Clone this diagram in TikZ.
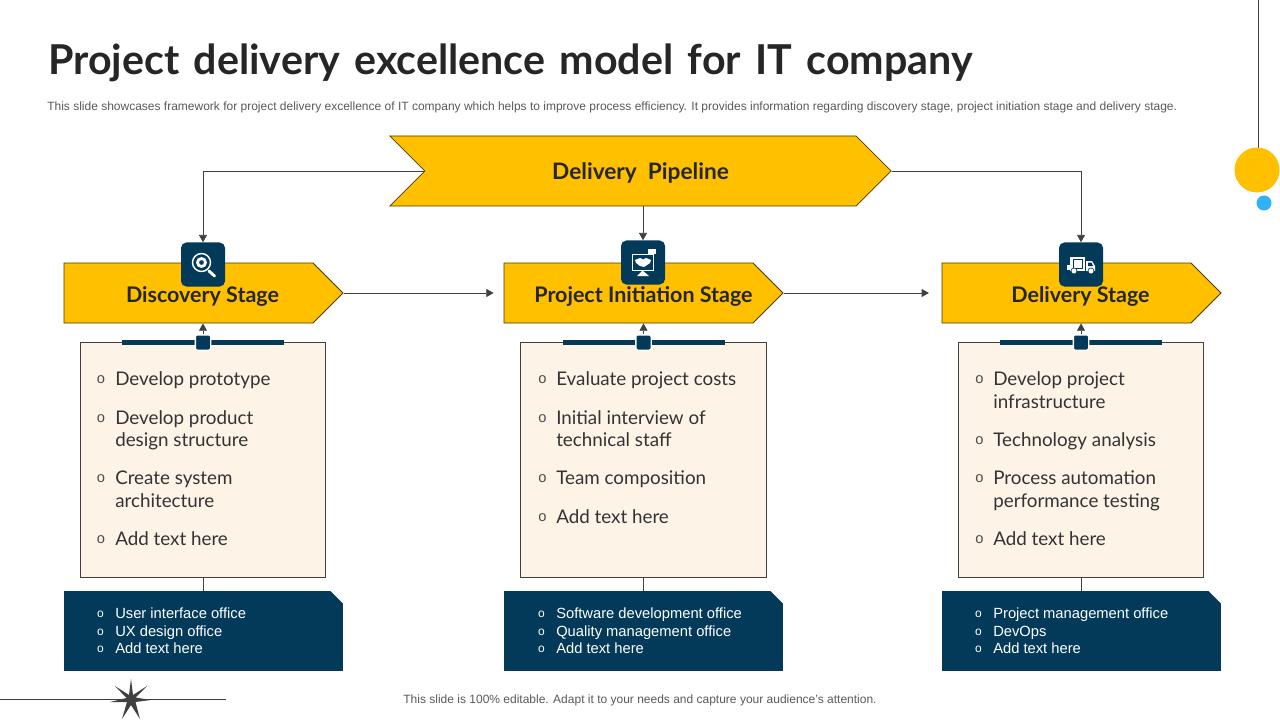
\documentclass[tikz,border=0pt]{standalone}
\usepackage{fontspec}
\setmainfont{Liberation Sans}
\newfontfamily\headfont{Lato}
\usepackage{xcolor}
\usetikzlibrary{shapes.symbols, arrows.meta, positioning}
\definecolor{goldfill}{HTML}{FFC000}
\definecolor{navyfill}{HTML}{033A59}
\definecolor{creamfill}{HTML}{FDF3E7}
\definecolor{skydot}{HTML}{2FB2FA}
\definecolor{linegray}{HTML}{404040}
\tikzset{
  stagebox/.style={signal, signal to=east, draw=black!70!goldfill, fill=goldfill, line width=0.6pt, minimum width=209.25pt, minimum height=45pt, inner sep=0pt},
  stagetxt/.style={anchor=base, inner sep=0pt, text=black!85, font=\headfont\bfseries\fontsize{16.1}{19}\selectfont},
  bodybox/.style={draw=linegray, fill=creamfill, line width=0.6pt, minimum width=184pt, minimum height=176pt, inner sep=0pt},
  officebox/.style={rectangle, fill=navyfill, minimum width=209.25pt, minimum height=59.5pt, inner sep=0pt},
  iconbox/.style={rectangle, rounded corners=4pt, fill=navyfill, minimum width=33pt, minimum height=33pt, inner sep=0pt},
  tabbox/.style={rectangle, rounded corners=1.5pt, fill=navyfill, draw=white, line width=1pt, minimum size=11.5pt, inner sep=0pt},
  conn/.style={draw=linegray, line width=0.6pt, -{Triangle[length=5.5pt,width=6pt]}},
  plainconn/.style={draw=linegray, line width=0.6pt},
  bodytxt/.style={anchor=base west, inner sep=0pt, text=black!80, font=\headfont\fontsize{14.1}{17}\selectfont},
  bullettxt/.style={anchor=center, inner sep=0pt, text=black!70, font=\fontsize{11}{13}\selectfont},
  officetxt/.style={anchor=base west, inner sep=0pt, text=white, font=\fontsize{11.05}{13}\selectfont},
  officedot/.style={anchor=center, inner sep=0pt, text=white, font=\fontsize{9}{11}\selectfont},
}
\begin{document}
\begin{tikzpicture}[x=0.75pt, y=-0.75pt]
\useasboundingbox (0,0) rectangle (1280,720);
% Heading
\node[anchor=base west, inner sep=0pt, text=black!85, font=\headfont\bfseries\fontsize{30.9}{36}\selectfont] (title) at (48,74.5) {\spaceskip=10.7pt\relax Project delivery excellence model for IT company};
\node[anchor=base west, inner sep=0pt, text=black!65, font=\fontsize{9}{11}\selectfont] (intro) at (47,110.5) {This slide showcases framework for project delivery excellence of IT company which helps to improve process efficiency. It provides information regarding discovery stage, project initiation stage and delivery stage.};
% Pipeline
\node[stagebox, signal from=west, minimum width=376pt, minimum height=52.5pt] (pipeline) at (640.5,171) {};
\node[stagetxt, font=\headfont\bfseries\fontsize{17}{20}\selectfont] (pipelinetxt) at (640.5,179.5) {Delivery\ \ Pipeline};
% Stages
\node[stagebox] (discovery) at (188.5,293) {};
\node[stagebox] (initiation) at (628.5,293) {};
\node[stagebox] (delivery) at (1066.5,293) {};
\node[stagetxt] (discoverytxt) at (202.5,302) {Discovery Stage};
\node[stagetxt] (initiationtxt) at (643.5,302) {Project Initiation Stage};
\node[stagetxt] (deliverytxt) at (1080.5,302) {Delivery Stage};
% Body boxes
\node[bodybox] (bodyA) at (203,460) {};
\node[bodybox] (bodyB) at (643.5,460) {};
\node[bodybox] (bodyC) at (1081,460) {};
% Office boxes
\node[officebox] (officeA) at (203.5,631) {};
\node[officebox] (officeB) at (643.5,631) {};
\node[officebox] (officeC) at (1081.5,631) {};
\foreach \nm in {officeA, officeB, officeC} {
    \fill[white] (\nm.north east) -- ++(-13,-0.5) -- ++(13.5,13.5) -- cycle;
}
% Bars on top of the body boxes
\foreach \x/\nm in {203/tabA, 643.5/tabB, 1081/tabC} {
    \fill[navyfill] (\x-81,340) rectangle (\x+81,345);
    \node[tabbox] (\nm) at (\x,342.5) {};
}
% Icon boxes
\node[iconbox] (iconA) at (203,264.5) {};
\node[iconbox] (iconB) at (643,262.5) {};
\node[iconbox] (iconC) at (1081,264.5) {};
% Connectors
\draw[conn] (pipeline.west) -| (iconA.north);
\draw[conn] (iconB.north |- pipeline.south) -- (iconB.north);
\draw[conn] (pipeline.east) -| (iconC.north);
\draw[conn, shorten >=7.5pt] (discovery.east) -- (initiation.west);
\draw[conn, shorten >=9.5pt] (initiation.east) -- (delivery.west);
\foreach \a/\b in {tabA/discovery, tabB/initiation, tabC/delivery} {
    \draw[conn] (\a.north) -- (\a.north |- \b.south);
}
\foreach \a/\b in {bodyA/officeA, bodyB/officeB, bodyC/officeC} {
    \draw[plainconn] (\a.south) -- (\a.south |- \b.north);
}
% Magnifier icon
\draw[white, line width=1.1pt] (201.5,262.5) circle (9);
\fill[white, even odd rule] (201.5,262.5) circle (5.5) (201.5,262.5) circle (2.5);
\draw[white, line width=2.2pt, line cap=round] (209,271) -- (214.5,276);
% Handshake icon
\draw[white, line width=0.7pt] (632,254) rectangle (653,270);
\fill[white] (635,260) -- (640,258) -- (643,259.5) -- (646,258) -- (651,260) -- (650,263) -- (644,267) -- (640,266) -- (636,263) -- cycle;
\fill[white] (642.5,270.5) -- (637,276) -- (649,276) -- cycle;
\fill[white] (648,249) rectangle (656,254);
% Truck icon
\fill[white] (1070,257) rectangle (1085,271);
\fill[white] (1086,261) -- (1092,261) -- (1095,266) -- (1095,271) -- (1086,271) -- cycle;
\fill[white] (1067,265) rectangle (1069.5,270);
\draw[navyfill, line width=0.4pt] (1073,259) rectangle (1082,268);
\fill[navyfill] (1088,262.5) -- (1091.5,262.5) -- (1093,266) -- (1088,266) -- cycle;
\foreach \x in {1074,1091} {
    \fill[white, draw=navyfill, line width=0.5pt] (\x,271) circle (3);
}
% First column texts
\foreach \y in {379,418,478,539} {
    \node[bullettxt] at (101,\y+1) {o};
}
\foreach \y/\lbl in {379/Develop prototype, 418/Develop product, 440/design structure, 478/Create system, 501/architecture, 539/Add text here} {
    \node[bodytxt] at (115,\y+6) {\lbl};
}
% Second column texts
\foreach \y in {379,418,478,517} {
    \node[bullettxt] at (542.5,\y+1) {o};
}
\foreach \y/\lbl in {379/Evaluate project costs, 418/Initial interview of, 440/technical staff, 478/Team composition, 517/Add text here} {
    \node[bodytxt] at (556,\y+6) {\lbl};
}
% Third column texts
\foreach \y in {379,440,478,539} {
    \node[bullettxt] at (979.5,\y+1) {o};
}
\foreach \y/\lbl in {379/Develop project, 402/infrastructure, 440/Technology analysis, 478/Process automation, 501/performance testing, 539/Add text here} {
    \node[bodytxt] at (993,\y+6) {\lbl};
}
% Office texts
\foreach \x/\a/\b/\c in {115/User interface office/UX design office/Add text here, 556/Software development office/Quality management office/Add text here, 993/Project management office/DevOps/Add text here} {
    \node[officetxt] at (\x,618) {\a};
    \node[officetxt] at (\x,636) {\b};
    \node[officetxt] at (\x,653) {\c};
    \foreach \y in {614,632,649} {
        \node[officedot] at (\x-14.5,\y) {o};
    }
}
% Decoration on the right
\draw[linegray, line width=0.6pt] (1258,0) -- (1258,148);
\fill[goldfill] (1257,170) circle (22.5);
\fill[skydot] (1264,203) circle (7.5);
% Decoration at the bottom
\draw[linegray, line width=0.6pt] (0,699) -- (226,699);
\fill[linegray] (131,679) -- (133,695) -- (147,686) -- (135.5,697.5) -- (151,700) -- (135.5,702) -- (140,719) -- (131,705) -- (122,719) -- (127,702) -- (110,702) -- (126.5,698) -- (115,686) -- (129,695) -- cycle;
% Footer
\node[anchor=base, inner sep=0pt, text=black!65, font=\fontsize{9}{11}\selectfont] (footer) at (640,703) {This slide is 100\% editable. Adapt it to your needs and capture your audience's attention.};
\end{tikzpicture}
\end{document}
